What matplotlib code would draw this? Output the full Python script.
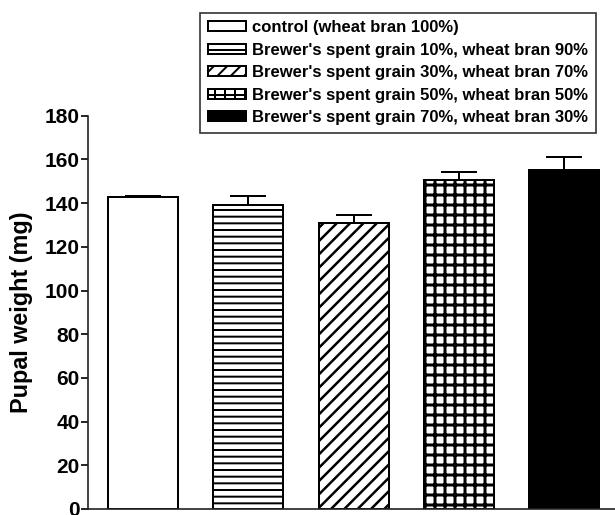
import matplotlib
matplotlib.use("Agg")
import matplotlib.pyplot as plt

groups = ["control (wheat bran 100%)",
          "Brewer's spent grain 10%, wheat bran 90%",
          "Brewer's spent grain 30%, wheat bran 70%",
          "Brewer's spent grain 50%, wheat bran 50%",
          "Brewer's spent grain 70%, wheat bran 30%"]
means = [142.9, 139.0, 131.0, 150.6, 155.1]
errors = [0.5, 4.2, 3.4, 3.5, 6.1]
yticks = [0, 20, 40, 60, 80, 100, 120, 140, 160, 180]

hatches = ["", "---", "///", "++", ""]
hatch_lw = [1.2, 1.2, 1.5, 1.8, 1.2]
faces = ["white", "white", "white", "white", "black"]

DPI = 120
plt.rcParams['font.family'] = ['Liberation Sans', 'DejaVu Sans']
plt.rcParams['font.weight'] = 'bold'
plt.rcParams['hatch.color'] = 'black'

fig = plt.figure(figsize=(615 / DPI, 515 / DPI), dpi=DPI)
ax = fig.add_axes([88 / 615, 6 / 515, 1 - 88 / 615, (509 - 115.7) / 515])

x = list(range(len(means)))
for i in x:
    plt.rcParams['hatch.linewidth'] = hatch_lw[i]
    b = ax.bar(i, means[i], width=0.665, color=faces[i], edgecolor='black',
               linewidth=1.2, hatch=hatches[i], label=groups[i], zorder=2)
    for p in b.patches:
        if hasattr(p, 'set_hatch_linewidth'):
            p.set_hatch_linewidth(hatch_lw[i])
plt.rcParams['hatch.linewidth'] = 1.2
ax.errorbar(x, means, yerr=[[0] * len(means), errors], fmt='none',
            ecolor='black', elinewidth=1.2, capsize=11, capthick=1.2, zorder=3)

ax.set_xlim(-0.524, 4.485)
ax.set_ylim(0, 180)
ax.set_yticks(yticks)
ax.set_yticklabels([str(t) for t in yticks], fontsize=12.5, fontweight='bold')
ax.set_xticks([])
ax.spines['top'].set_visible(False)
ax.spines['right'].set_visible(False)
for s in ['left', 'bottom']:
    ax.spines[s].set_linewidth(1.0)
    ax.spines[s].set_color('#222222')
ax.tick_params(axis='y', length=4, width=1.0, pad=1)
ax.set_ylabel("Pupal weight (mg)", fontsize=14, fontweight='bold', labelpad=7)

leg = fig.legend(loc='upper right', bbox_to_anchor=(596 / 615, 1 - 12.7 / 515),
                 bbox_transform=fig.transFigure, fontsize=10, frameon=True,
                 fancybox=False, edgecolor='#333333', framealpha=1,
                 handlelength=2.3, handleheight=0.55, handletextpad=0.4,
                 labelspacing=0.45, borderpad=0.45, borderaxespad=0)
leg.get_frame().set_linewidth(1.0)
for t in leg.get_texts():
    t.set_fontweight('bold')

fig.savefig("out.png", dpi=DPI)
